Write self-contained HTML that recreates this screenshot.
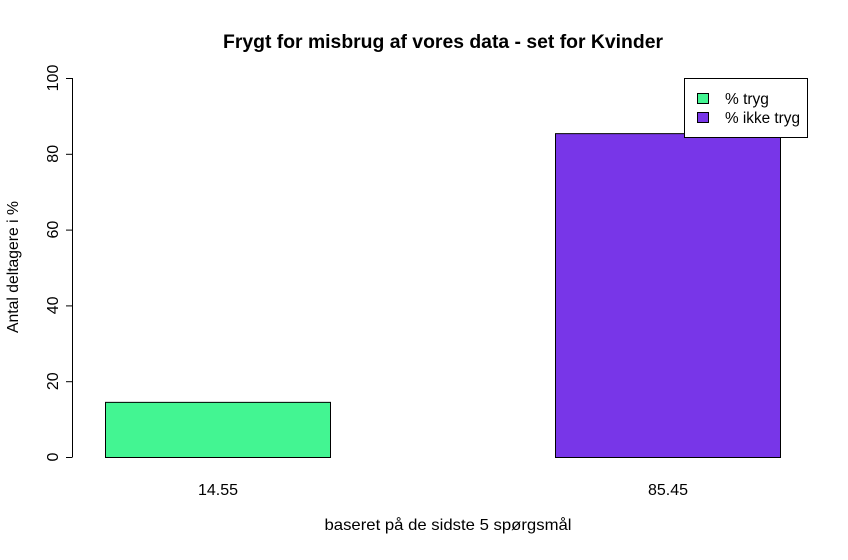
<!DOCTYPE html>
<html><head><meta charset="utf-8"><style>
body{margin:0;background:#fff}
text{font-family:"Liberation Sans",Arial,sans-serif}
</style></head><body>
<svg width="848" height="555" viewBox="0 0 848 555">
<rect width="848" height="555" fill="#fff"/>
<text x="443" y="48" text-anchor="middle" font-size="19" font-weight="bold" textLength="440" lengthAdjust="spacingAndGlyphs">Frygt for misbrug af vores data - set for Kvinder</text>
<g id="yaxis"></g>
<g id="bars"></g>
<text x="448" y="530" text-anchor="middle" font-size="16" textLength="247" lengthAdjust="spacingAndGlyphs">baseret på de sidste 5 spørgsmål</text>
<text transform="translate(18,267) rotate(-90)" text-anchor="middle" font-size="16" textLength="132" lengthAdjust="spacingAndGlyphs">Antal deltagere i %</text>
<g>
<rect x="684.5" y="78.5" width="123" height="59" fill="#fff" stroke="#000"/>
<rect x="697.5" y="93.5" width="11" height="10" fill="#43F592" stroke="#000"/>
<text x="725" y="104" font-size="15.5">% tryg</text>
<rect x="697.5" y="112.5" width="11" height="10" fill="#7836E8" stroke="#000"/>
<text x="725" y="123" font-size="15.5" textLength="75" lengthAdjust="spacingAndGlyphs">% ikke tryg</text>
</g>
</svg>
<script>
const categories=["% tryg","% ikke tryg"];
const values=[14.55,85.45];
const barLabels=["14.55","85.45"];
const colors=["#43F592","#7836E8"];
const yTicks=[0,20,40,60,80,100];
const ns="http://www.w3.org/2000/svg";
function y(v){return 457-v*3.79;}
function xl(i){return 105+i*450;}
const ya=document.getElementById("yaxis");
function mk(t,a,p){const e=document.createElementNS(ns,t);for(const k in a)e.setAttribute(k,a[k]);p.appendChild(e);return e;}
mk("line",{x1:72.5,x2:72.5,y1:y(0),y2:y(100),stroke:"#000"},ya);
yTicks.forEach(t=>{
 const l=mk("line",{x1:66,x2:72.5,y1:y(t)+0.5,y2:y(t)+0.5,stroke:"#000"},ya);
 
 
 const tx=mk("text",{transform:`translate(58,${y(t)}) rotate(-90)`,"text-anchor":"middle","font-size":"16"},ya);
 tx.textContent=t;
 
 
});
const bg=document.getElementById("bars");
values.forEach((v,i)=>{
 const r=mk("rect",{x:xl(i)+0.5,y:y(v)+0.5,width:225,height:y(0)-y(v),fill:colors[i],stroke:"#000"},bg);
 
 
 const t=mk("text",{x:xl(i)+113,y:495,"text-anchor":"middle","font-size":"16"},bg);
 t.textContent=barLabels[i];
 
 
});
</script>
</body></html>
